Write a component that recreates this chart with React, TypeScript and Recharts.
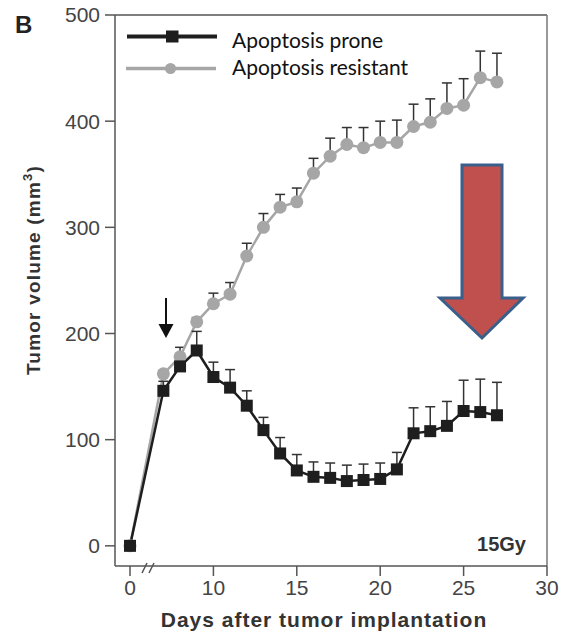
import React from 'react';
import { LineChart, Line, XAxis, YAxis, ErrorBar, ReferenceLine, Legend } from 'recharts';

// days after implantation; day 0 sits left of the axis break
const days = [0, 7, 8, 9, 10, 11, 12, 13, 14, 15, 16, 17, 18, 19, 20, 21, 22, 23, 24, 25, 26, 27];

// tumor volume (mm3), mean and upper SEM
const prone = [0, 146, 169, 184, 159, 149, 132, 109, 87, 71, 65, 64, 61, 62, 63, 72, 106, 108, 113, 127, 126, 123];
const proneErr = [0, 9, 8, 18, 14, 17, 14, 12, 15, 15, 14, 14, 15, 15, 15, 16, 24, 23, 23, 29, 31, 31];
const resistant = [0, 162, 178, 211, 228, 237, 273, 300, 319, 324, 351, 367, 378, 375, 380, 380, 395, 399, 412, 415, 441, 437];
const resistantErr = [0, 3, 9, 4, 10, 11, 12, 13, 12, 13, 14, 17, 16, 19, 20, 21, 21, 22, 24, 25, 25, 27];

const xTicks = [5, 10, 15, 20, 25, 30];
const xTickLabels = ['0', '10', '15', '20', '25', '30'];
const yTicks = [0, 100, 200, 300, 400, 500];

const seriesNames = ['Apoptosis prone', 'Apoptosis resistant'];

// day 0 is drawn at the position of the "0" tick (broken axis)
const BREAK_POS = 5;

const data = days.map((d, i) => ({
  pos: d === 0 ? BREAK_POS : d,
  prone: prone[i],
  proneErr: [0, proneErr[i]],
  resistant: resistant[i],
  resistantErr: [0, resistantErr[i]],
}));

const BLACK = '#1e1e1e';
const GRAY = '#a6a6a6';
const AXIS = '#555';
const sans = '"Liberation Sans", Arial, sans-serif';

const SquareDot = (p: any) => (
  <rect key={`sq-${p.index}`} x={p.cx - 6} y={p.cy - 6} width={12} height={12} fill={BLACK} />
);

const renderLegend = () => (
  <svg width={300} height={70} style={{ display: 'block' }}>
    <line x1={17} y1={16.5} x2={107} y2={16.5} stroke={BLACK} strokeWidth={4} />
    <rect x={56} y={10.5} width={12.5} height={12} fill={BLACK} />
    <text x={122} y={28} fontFamily="Lato, sans-serif" fontSize={21} fill="#111">{seriesNames[0]}</text>
    <line x1={16} y1={48.5} x2={106} y2={48.5} stroke={GRAY} strokeWidth={3.5} />
    <circle cx={60.5} cy={48.5} r={5.5} fill={GRAY} />
    <text x={122} y={55} fontFamily="Lato, sans-serif" fontSize={21} fill="#111">{seriesNames[1]}</text>
  </svg>
);

const YLabel = () => (
  <text
    x={40}
    y={270}
    transform="rotate(-90, 40, 270)"
    textAnchor="middle"
    fontFamily={sans}
    fontWeight="bold"
    fontSize={19}
    letterSpacing={1.2}
    fill="#333"
  >
    Tumor volume (mm
    <tspan fontSize={13} dy={-8}>3</tspan>
    <tspan dy={8}>)</tspan>
  </text>
);

const XLabel = () => (
  <text
    x={324}
    y={627}
    textAnchor="middle"
    fontFamily={sans}
    fontWeight="bold"
    fontSize={21}
    letterSpacing={1}
    fill="#333"
  >
    Days after tumor implantation
  </text>
);

export default function App() {
  return (
    <div style={{ position: 'absolute', left: 0, top: 0, width: 567, height: 633, background: '#fff' }}>
      <LineChart width={567} height={633} data={data} margin={{ top: 15, right: 20, bottom: 27, left: 55 }}>
        <XAxis
          dataKey="pos"
          type="number"
          domain={[4.1, 30]}
          allowDataOverflow
          ticks={xTicks}
          tickFormatter={(v: number) => xTickLabels[xTicks.indexOf(v)]}
          height={40}
          tickSize={10}
          tickMargin={4}
          stroke={AXIS}
          strokeWidth={1.5}
          tick={{ fill: '#444', fontSize: 21, fontFamily: sans }}
          label={<XLabel />}
        />
        <YAxis
          type="number"
          domain={[-19, 500]}
          allowDataOverflow
          ticks={yTicks}
          width={60}
          tickSize={10}
          tickMargin={5}
          stroke={AXIS}
          strokeWidth={1.5}
          tick={{ fill: '#444', fontSize: 21, fontFamily: sans }}
          label={<YLabel />}
        />
        <ReferenceLine y={500} stroke={AXIS} strokeWidth={1.5} />
        <ReferenceLine x={30} stroke="#777" strokeWidth={1.5} />
        <Legend
          layout="vertical"
          align="center"
          verticalAlign="middle"
          wrapperStyle={{ top: 20, left: 110, width: 300, height: 70 }}
          content={renderLegend}
        />
        <Line
          dataKey="resistant"
          type="linear"
          stroke={GRAY}
          strokeWidth={2.5}
          dot={{ r: 6.5, fill: GRAY, stroke: 'none' }}
          isAnimationActive={false}
        >
          <ErrorBar dataKey="resistantErr" direction="y" width={5} stroke="#333" strokeWidth={1.5} />
        </Line>
        <Line
          dataKey="prone"
          type="linear"
          stroke={BLACK}
          strokeWidth={2.5}
          dot={SquareDot}
          isAnimationActive={false}
        >
          <ErrorBar dataKey="proneErr" direction="y" width={5} stroke="#333" strokeWidth={1.5} />
        </Line>
      </LineChart>

      {/* annotations: panel letter, dose, treatment arrow, axis break, trend arrow */}
      <svg width={567} height={633} style={{ position: 'absolute', left: 0, top: 0, pointerEvents: 'none' }}>
        <text x={15} y={33} fontFamily={sans} fontWeight="bold" fontSize={24} fill="#222">B</text>
        <text x={526} y={551} textAnchor="end" fontFamily={sans} fontWeight="bold" fontSize={20} fill="#333">15Gy</text>
        <line x1={166} y1={298} x2={166} y2={326} stroke="#111" strokeWidth={2} />
        <polygon points="158.5,324 173.5,324 166,338" fill="#111" />
        <line x1={142} y1={573} x2={147} y2={563} stroke={AXIS} strokeWidth={1.5} />
        <line x1={149} y1={573} x2={154} y2={563} stroke={AXIS} strokeWidth={1.5} />
        <polygon
          points="462,165 502,165 502,298 523,298 482,338 440,298 462,298"
          fill="#c0504d"
          stroke="#3a5f8b"
          strokeWidth={3}
          strokeLinejoin="miter"
        />
      </svg>
    </div>
  );
}
